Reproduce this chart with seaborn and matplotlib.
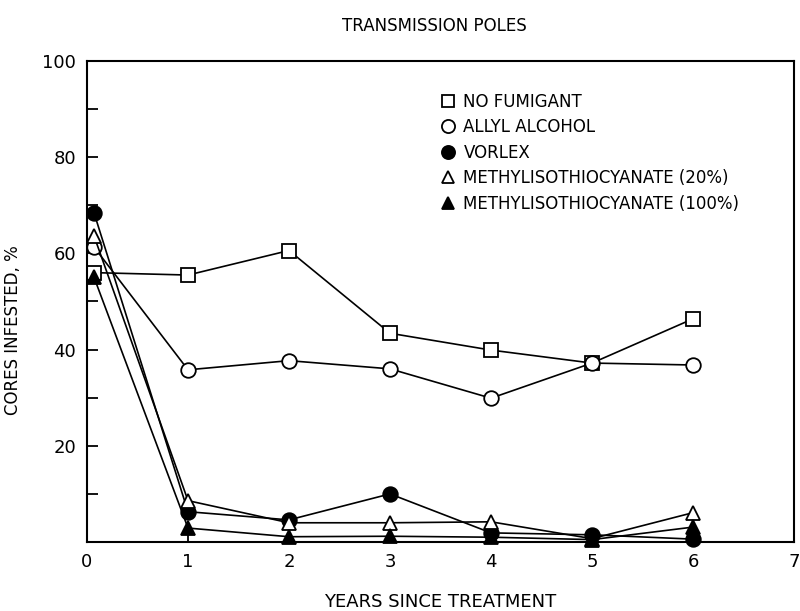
import pandas as pd
import matplotlib
matplotlib.use("Agg")
import matplotlib.pyplot as plt
import seaborn as sns

years = [0.07, 1, 2, 3, 4, 5, 6]
no_fumigant = [56.0, 55.5, 60.6, 43.4, 39.9, 37.2, 46.4]
allyl_alcohol = [61.3, 35.8, 37.7, 36.0, 29.9, 37.2, 36.8]
vorlex = [68.4, 6.3, 4.6, 10.0, 1.9, 1.5, 0.6]
mit_20 = [63.6, 8.6, 4.0, 4.0, 4.2, 0.7, 6.1]
mit_100 = [55.0, 2.9, 1.1, 1.2, 1.0, 0.5, 3.1]

series = [
    ("NO FUMIGANT", no_fumigant, "s", "white"),
    ("ALLYL ALCOHOL", allyl_alcohol, "o", "white"),
    ("VORLEX", vorlex, "o", "black"),
    ("METHYLISOTHIOCYANATE (20%)", mit_20, "^", "white"),
    ("METHYLISOTHIOCYANATE (100%)", mit_100, "^", "black"),
]

sns.set_style("ticks")
plt.rcParams["font.family"] = ["DejaVu Sans"]
plt.rcParams.update({"text.color": "black", "axes.labelcolor": "black",
                     "xtick.color": "black", "ytick.color": "black",
                     "axes.edgecolor": "black"})

fig = plt.figure(figsize=(8, 6.11), dpi=100)
ax = fig.add_axes([0.10875, 0.1129, 0.88375, 0.7873])

for name, vals, mk, fc in series:
    df = pd.DataFrame({"year": years, "pct": vals})
    sns.lineplot(data=df, x="year", y="pct", ax=ax, color="black", lw=1.2,
                 marker=mk, markersize=9.5 if mk != "o" else 10.5,
                 markerfacecolor=fc, markeredgecolor="black", markeredgewidth=1.3,
                 label=name, clip_on=False)

ax.set_xlim(0, 7)
ax.set_ylim(0, 100)
ax.set_xticks(range(8))
ax.set_yticks([20, 40, 60, 80, 100])
ax.set_yticks([10, 30, 50, 70, 90], minor=True)
ax.tick_params(direction="in", length=8, width=1.3, labelsize=13, pad=8)
ax.tick_params(axis="y", which="minor", direction="in", length=8, width=1.3)
for s in ax.spines.values():
    s.set_linewidth(1.5)

ax.set_xlabel("YEARS SINCE TREATMENT", fontsize=13, labelpad=16)
ax.set_ylabel("CORES INFESTED, %", fontsize=12)
ax.yaxis.set_label_coords(-0.092, 0.44)
fig.text(0.543, 0.958, "TRANSMISSION POLES", ha="center", va="center", fontsize=12)

ax.legend(loc="upper left", bbox_to_anchor=(0.49, 0.965), frameon=False,
          fontsize=12, handlelength=0, handletextpad=0.9, labelspacing=0.45,
          markerscale=0.9)

fig.savefig("out.png", dpi=100)
